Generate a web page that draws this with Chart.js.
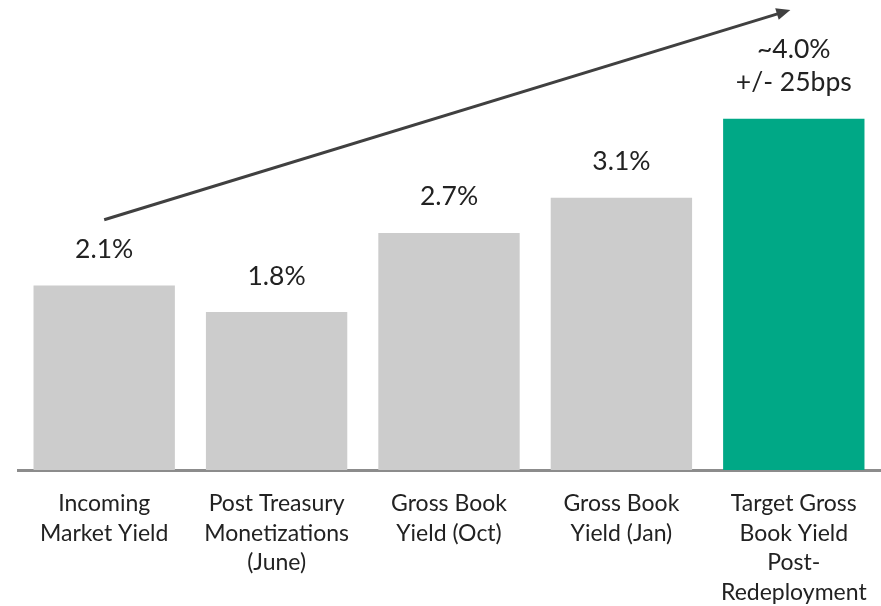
<!DOCTYPE html>
<html lang="en">
<head>
    <meta charset="UTF-8">
    <title>Gross Book Yield</title>
    <script src="https://cdn.jsdelivr.net/npm/chart.js"></script>
    <style>
        html, body { margin: 0; padding: 0; background: #fff; overflow: hidden; }
    </style>
</head>
<body>
    <canvas id="yieldChart" width="881" height="606"></canvas>

    <script>
        const categories = [
            ['Incoming', 'Market Yield'],
            ['Post Treasury', 'Monetizations', '(June)'],
            ['Gross Book', 'Yield (Oct)'],
            ['Gross Book', 'Yield (Jan)'],
            ['Target Gross', 'Book Yield', 'Post-', 'Redeployment']
        ];
        const yieldValues = [2.1, 1.8, 2.7, 3.1, 4.0];
        const valueLabels = [['2.1%'], ['1.8%'], ['2.7%'], ['3.1%'], ['~4.0%', '+/- 25bps']];
        const barColors = ['#cccccc', '#cccccc', '#cccccc', '#cccccc', '#00a886'];

        // trend arrow, in (category index, value) units
        const arrowFrom = [0, 2.85];
        const arrowTo = [3.98, 5.24];

        const FONT = 'Lato, "Open Sans", sans-serif';

        const valueLabelPlugin = {
            id: 'valueLabels',
            afterDatasetsDraw(chart) {
                const ctx = chart.ctx;
                const meta = chart.getDatasetMeta(0);
                ctx.save();
                ctx.fillStyle = '#222';
                ctx.font = '26.5px ' + FONT;
                ctx.textAlign = 'center';
                ctx.textBaseline = 'middle';
                meta.data.forEach((bar, i) => {
                    const lines = valueLabels[i];
                    lines.forEach((line, j) => {
                        const y = bar.y - 36 - (lines.length - 1 - j) * 33;
                        ctx.fillText(line, bar.x, y);
                    });
                });
                ctx.restore();
            }
        };

        const arrowPlugin = {
            id: 'trendArrow',
            afterDatasetsDraw(chart) {
                const xs = chart.scales.x, ys = chart.scales.y;
                const x0 = xs.getPixelForValue(arrowFrom[0]), y0 = ys.getPixelForValue(arrowFrom[1]);
                const x1 = xs.getPixelForValue(arrowTo[0]), y1 = ys.getPixelForValue(arrowTo[1]);
                const ang = Math.atan2(y1 - y0, x1 - x0);
                const ctx = chart.ctx;
                ctx.save();
                ctx.strokeStyle = '#404040';
                ctx.fillStyle = '#404040';
                ctx.lineWidth = 3;
                ctx.beginPath();
                ctx.moveTo(x0, y0);
                ctx.lineTo(x1 - 10 * Math.cos(ang), y1 - 10 * Math.sin(ang));
                ctx.stroke();
                ctx.beginPath();
                ctx.moveTo(x1, y1);
                ctx.lineTo(x1 - 14 * Math.cos(ang) + 6 * Math.sin(ang), y1 - 14 * Math.sin(ang) - 6 * Math.cos(ang));
                ctx.lineTo(x1 - 14 * Math.cos(ang) - 6 * Math.sin(ang), y1 - 14 * Math.sin(ang) + 6 * Math.cos(ang));
                ctx.closePath();
                ctx.fill();
                ctx.restore();
            }
        };

        const ctx = document.getElementById('yieldChart').getContext('2d');
        new Chart(ctx, {
            type: 'bar',
            data: {
                labels: categories,
                datasets: [{
                    data: yieldValues,
                    backgroundColor: barColors,
                    borderWidth: 0,
                    barPercentage: 0.82,
                    categoryPercentage: 1.0
                }]
            },
            options: {
                responsive: false,
                animation: false,
                layout: { padding: { top: 31, left: 18, right: 1, bottom: 0 } },
                plugins: {
                    legend: { display: false },
                    tooltip: { enabled: false }
                },
                scales: {
                    x: {
                        grid: { display: false, drawTicks: false },
                        border: { display: true, color: '#8c8c8c', width: 3 },
                        ticks: {
                            color: '#222',
                            font: { family: FONT, size: 23, lineHeight: 1.283 },
                            padding: 19,
                            maxRotation: 0,
                            autoSkip: false
                        },
                        afterFit(scale) {
                            scale.height = 136;
                            scale.paddingLeft = 0;
                            scale.paddingRight = 0;
                        }
                    },
                    y: {
                        display: false,
                        min: 0,
                        max: 5
                    }
                }
            },
            plugins: [valueLabelPlugin, arrowPlugin]
        });
    </script>
</body>
</html>
